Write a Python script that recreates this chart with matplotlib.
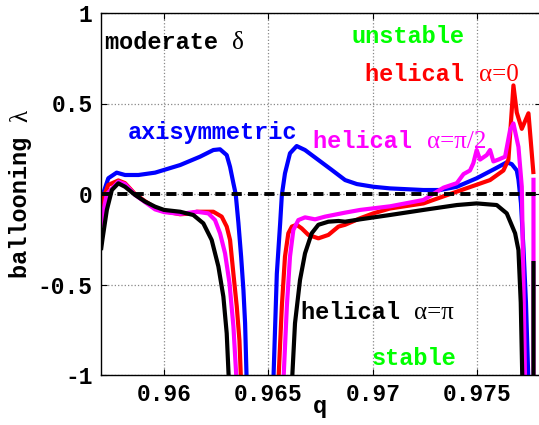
import numpy as np
import matplotlib
matplotlib.use('Agg')
import matplotlib.pyplot as plt

nan = np.nan

# ballooning eigenvalue vs q
q_axi = [0.95698, 0.95709, 0.95733, 0.95773, 0.95813, 0.95877, 0.95957, 0.96077, 0.96172,
         0.96236, 0.96268, 0.96300, 0.96316, 0.96332, 0.96343, 0.96356, 0.96369, 0.96380,
         0.96388, 0.96396, nan,
         0.96523, 0.96540, 0.96556, 0.96564, 0.96579, 0.96603, 0.96635, 0.96675, 0.96739,
         0.96803, 0.96867, 0.96923, 0.97002, 0.97082, 0.97242, 0.97322, 0.97402, 0.97497,
         0.97585, 0.97641, 0.97665, 0.97689, 0.97697, 0.97709, 0.97721, 0.97733, 0.97745]
lam_axi = [-0.06, 0.004, 0.087, 0.118, 0.105, 0.105, 0.118, 0.16, 0.206,
           0.243, 0.247, 0.215, 0.15, 0.059, 0.0, -0.16, -0.346, -0.53,
           -0.714, -1.05, nan,
           -1.05, -0.44, -0.16, -0.005, 0.114, 0.225, 0.265, 0.243, 0.188,
           0.133, 0.077, 0.055, 0.04, 0.031, 0.022, 0.022, 0.04, 0.087,
           0.14, 0.175, 0.165, 0.13, 0.08, -0.05, -0.3, -0.6, -1.05]

q_hel0 = [0.95698, 0.95709, 0.95733, 0.95781, 0.95813, 0.95861, 0.95909, 0.95957, 0.96000,
          0.96077, 0.96125, 0.96157, 0.96236, 0.96276, 0.96300, 0.96316, 0.96332, 0.96348,
          0.96361, 0.96369, nan,
          0.96547, 0.96564, 0.96579, 0.96595, 0.96612, 0.96635, 0.96659, 0.96691, 0.96739,
          0.96787, 0.96835, 0.96867, 0.96939, 0.97002, 0.97082, 0.97242, 0.97402, 0.97561,
          0.97625, 0.97649, 0.97673, 0.97689, 0.97713, 0.97745, 0.97769]
lam_hel0 = [-0.125, -0.02, 0.05, 0.075, 0.06, 0.0, -0.04, -0.075, -0.095,
            -0.112, -0.108, -0.098, -0.098, -0.125, -0.18, -0.254, -0.44, -0.62,
            -0.81, -1.05, nan,
            -1.05, -0.62, -0.346, -0.217, -0.18, -0.17, -0.19, -0.226, -0.245,
            -0.226, -0.18, -0.17, -0.134, -0.107, -0.08, -0.052, 0.013, 0.077,
            0.13, 0.19, 0.60, 0.45, 0.36, 0.446, 0.11]

q_hel2 = [0.95698, 0.95705, 0.95726, 0.95781, 0.95813, 0.95861, 0.95909, 0.95957, 0.96000,
          0.96077, 0.96157, 0.96212, 0.96244, 0.96268, 0.96292, 0.96313, 0.96332, 0.96348, nan,
          0.96571, 0.96588, 0.96603, 0.96619, 0.96643, 0.96675, 0.96723, 0.96771, 0.96867,
          0.96939, 0.97082, 0.97242, 0.97338, 0.97402, 0.97434, 0.97465, 0.97481, 0.97497,
          0.97513, 0.97545, 0.97561, 0.97577, 0.97601, 0.97633, 0.97657, 0.97673, 0.97697,
          0.97713, 0.97729, nan, 0.97769, 0.97769]
lam_hel2 = [-0.18, -0.12, 0.0, 0.068, 0.055, -0.005, -0.045, -0.085, -0.1,
            -0.11, -0.098, -0.107, -0.144, -0.217, -0.328, -0.49, -0.73, -1.05, nan,
            -1.05, -0.62, -0.346, -0.199, -0.144, -0.129, -0.14, -0.125, -0.103,
            -0.088, -0.068, -0.033, 0.035, 0.06, 0.11, 0.13, 0.17, 0.243,
            0.19, 0.215, 0.243, 0.18, 0.19, 0.206, 0.354, 0.39, 0.26,
            0.04, -1.05, nan, 0.09, -1.05]

q_helpi = [0.95698, 0.95705, 0.95726, 0.95750, 0.95781, 0.95813, 0.95861, 0.95909, 0.95957,
           0.96000, 0.96077, 0.96140, 0.96188, 0.96228, 0.96260, 0.96284, 0.96300, 0.96311, nan,
           0.96612, 0.96627, 0.96651, 0.96675, 0.96707, 0.96739, 0.96787, 0.96835, 0.96867,
           0.96939, 0.97082, 0.97242, 0.97402, 0.97497, 0.97593, 0.97641, 0.97681, 0.97697,
           0.97708, 0.97716, nan, 0.97769, 0.97769]
lam_helpi = [-0.31, -0.25, -0.088, 0.022, 0.059, 0.04, -0.005, -0.042, -0.07,
             -0.088, -0.098, -0.116, -0.162, -0.254, -0.40, -0.567, -0.77, -1.05, nan,
             -1.05, -0.714, -0.475, -0.328, -0.217, -0.17, -0.153, -0.149, -0.153,
             -0.14, -0.116, -0.088, -0.061, -0.052, -0.061, -0.107, -0.217, -0.31,
             -0.6, -1.05, nan, -0.37, -1.05]

x_ticks = [0.96, 0.965, 0.97, 0.975]
y_ticks = [-1, -0.5, 0, 0.5, 1]

mono = 'Liberation Mono'
serif = 'Liberation Serif'
fs = 17

fig = plt.figure(figsize=(5.39, 4.25), dpi=100)
ax = fig.add_axes([101 / 539, 50 / 425, 440 / 539, 362 / 425])

ax.grid(True, linestyle=':', color='#888888', linewidth=0.9)
ax.set_axisbelow(True)

lw = 3.0
style = dict(lw=lw, solid_joinstyle='round', solid_capstyle='butt')
ax.plot(q_axi, lam_axi, color='#0000ff', **style)
ax.plot(q_hel0, lam_hel0, color='#ff0000', **style)
ax.plot(q_hel2, lam_hel2, color='#ff00ff', **style)
ax.plot(q_helpi, lam_helpi, color='black', **style)
ax.axhline(0, color='black', lw=2.8, dashes=(2.6, 1.6))

ax.set_xlim(0.95698, 0.97805)
ax.set_ylim(-1, 1)
ax.set_xticks(x_ticks)
ax.set_xticklabels(['0.96', '0.965', '0.97', '0.975'])
ax.set_yticks(y_ticks)
ax.set_yticklabels(['-1', '-0.5', '0', '0.5', '1'])
ax.tick_params(direction='in', length=4, width=0.8, labelsize=16.5, pad=6,
               top=True, right=True)
for lab in ax.get_xticklabels() + ax.get_yticklabels():
    lab.set_fontfamily(mono)
    lab.set_fontweight('bold')
for s in ax.spines.values():
    s.set_linewidth(1.0)


def label(x, y, word, greek, color):
    ax.text(x, y, word, color=color, fontfamily=mono, fontweight='bold',
            fontsize=fs, va='baseline', ha='left')
    if greek:
        ax.annotate(greek, xy=(x, y), xytext=(len(word) * 0.6 * fs, 0),
                    textcoords='offset points', color=color, fontfamily=serif,
                    fontsize=fs + 1, va='baseline', ha='left')


label(0.95717, 0.80, 'moderate ', 'δ', 'black')
label(0.96899, 0.836, 'unstable', '', '#00ff00')
label(0.96963, 0.626, 'helical ', 'α=0', '#ff0000')
label(0.95828, 0.302, 'axisymmetric', '', '#0000ff')
label(0.96714, 0.252, 'helical ', 'α=π/2', '#ff00ff')
label(0.96655, -0.692, 'helical ', 'α=π', 'black')
label(0.96995, -0.945, 'stable', '', '#00ff00')

# axis labels
fig.text(27 / 539, 147 / 425, 'ballooning ', rotation=90, rotation_mode='anchor',
         ha='left', va='baseline', fontfamily=mono, fontweight='bold', fontsize=fs)
ax.annotate('λ', xy=(27 / 539, 147 / 425), xycoords='figure fraction',
            xytext=(0, 11 * 0.6 * fs), textcoords='offset points', rotation=90,
            rotation_mode='anchor', ha='left', va='baseline', fontfamily=serif,
            fontsize=fs + 1)
fig.text(320 / 539, 12 / 425, 'q', ha='center', va='baseline',
         fontfamily=mono, fontweight='bold', fontsize=fs)

fig.savefig('out.png', dpi=100)
